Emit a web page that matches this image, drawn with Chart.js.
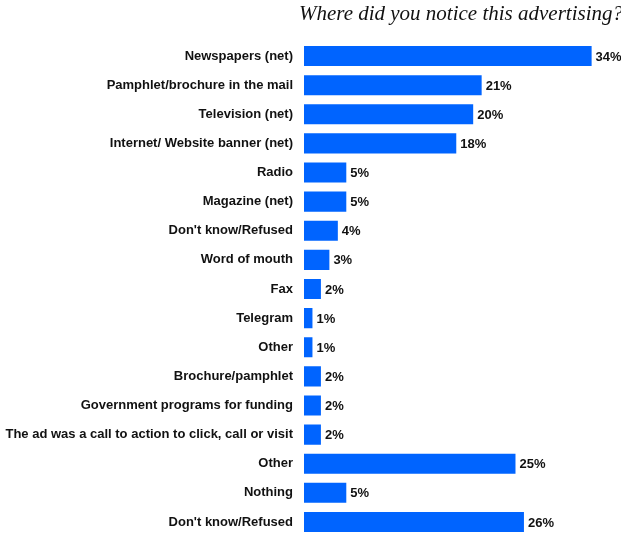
<!DOCTYPE html>
<html>
<head>
<meta charset="utf-8">
<script src="https://cdn.jsdelivr.net/npm/chart.js@4"></script>
<style>
  html, body { margin: 0; padding: 0; background: #fff; }
  canvas { display: block; }
</style>
</head>
<body>
<canvas id="chart" width="621" height="550"></canvas>
<script>
const categories = [
  "Newspapers (net)",
  "Pamphlet/brochure in the mail",
  "Television (net)",
  "Internet/ Website banner (net)",
  "Radio",
  "Magazine (net)",
  "Don't know/Refused",
  "Word of mouth",
  "Fax",
  "Telegram",
  "Other",
  "Brochure/pamphlet",
  "Government programs for funding",
  "The ad was a call to action to click, call or visit",
  "Other",
  "Nothing",
  "Don't know/Refused"
];
const percents = [34, 21, 20, 18, 5, 5, 4, 3, 2, 1, 1, 2, 2, 2, 25, 5, 26];
const title = "Where did you notice this advertising?";

// heading in the top right corner
const titlePlugin = {
  id: "titleText",
  afterDraw(chart) {
    const ctx = chart.ctx;
    ctx.save();
    ctx.font = "italic 21px 'Liberation Serif', 'Times New Roman', serif";
    ctx.fillStyle = "#111";
    ctx.textAlign = "right";
    ctx.textBaseline = "alphabetic";
    ctx.fillText(title, 623, 20);
    ctx.restore();
  }
};

// percent figure just past the end of each bar
const valueLabels = {
  id: "valueLabels",
  afterDatasetsDraw(chart) {
    const ctx = chart.ctx;
    const meta = chart.getDatasetMeta(0);
    ctx.save();
    ctx.font = "bold 13px 'Liberation Sans', Arial, sans-serif";
    ctx.fillStyle = "#111";
    ctx.textAlign = "left";
    ctx.textBaseline = "middle";
    meta.data.forEach((bar, i) => {
      ctx.fillText(percents[i] + "%", bar.x + 4, bar.y + 1);
    });
    ctx.restore();
  }
};

new Chart(document.getElementById("chart"), {
  type: "bar",
  data: {
    labels: categories,
    datasets: [{
      data: percents,
      backgroundColor: "#0064ff",
      borderWidth: 0,
      categoryPercentage: 1,
      barPercentage: 0.69
    }]
  },
  options: {
    indexAxis: "y",
    responsive: false,
    animation: false,
    layout: {
      padding: {top: 41.5, right: 4, bottom: 13.5, left: 0}
    },
    plugins: {
      legend: {display: false},
      tooltip: {enabled: false}
    },
    scales: {
      x: {
        display: false,
        min: 0,
        max: 37
      },
      y: {
        grid: {display: false, drawTicks: false},
        border: {display: false},
        ticks: {
          padding: 11,
          color: "#111",
          autoSkip: false,
          font: {family: "'Liberation Sans', Arial, sans-serif", size: 13, weight: "bold"}
        },
        afterFit(scale) {
          scale.width = 304;
          // let the layout padding alone decide the vertical extent
          scale.paddingTop = 0;
          scale.paddingBottom = 0;
        }
      }
    }
  },
  plugins: [titlePlugin, valueLabels]
});
</script>
</body>
</html>
